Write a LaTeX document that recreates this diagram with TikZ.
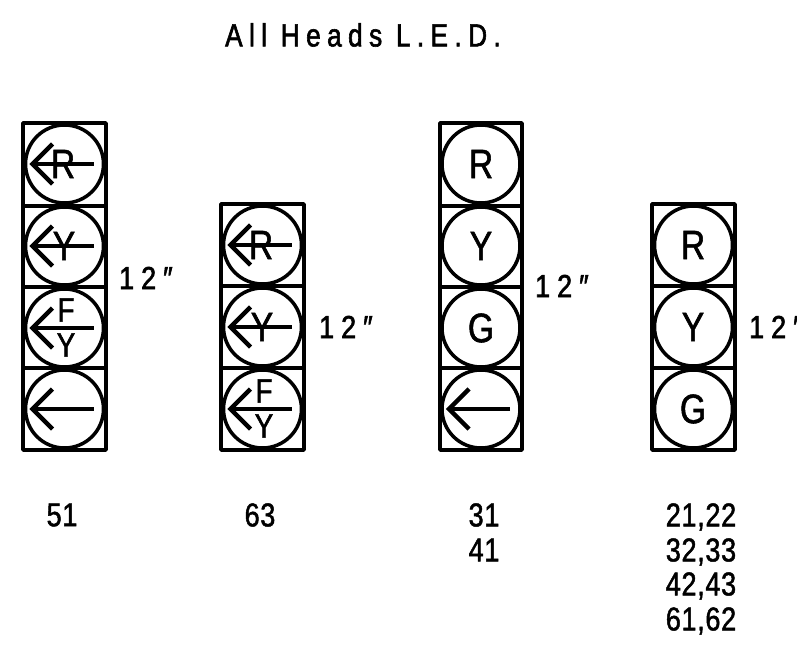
\documentclass[tikz,border=0pt]{standalone}
\usepackage{fontspec}
\setmainfont{Liberation Sans}
\newfontfamily\cad[FakeStretch=0.82,FakeBold=1.4]{Liberation Sans}
\newfontfamily\cadwide[FakeStretch=0.84,LetterSpace=22,FakeBold=1.8]{Liberation Sans}
\newfontfamily\cadtitle[FakeStretch=0.82,LetterSpace=20,FakeBold=1.8]{Liberation Sans}
\newfontfamily\numfont[FakeStretch=0.82,FakeBold=1.4,LetterSpace=2]{Liberation Sans}
\newcommand{\fsz}[1]{\fontsize{#1}{#1}\selectfont}
\tikzset{
  housing/.style={draw=black,line width=3.5pt,fill=none,line join=round},
  lens/.style={circle,draw=black,line width=3.5pt,minimum size=78pt,inner sep=0pt},
  bigletter/.style={inner sep=0pt,font=\cad\fsz{41}},
  smallletter/.style={inner sep=0pt,font=\cad\fsz{34}},
  idlabel/.style={inner sep=0pt,font=\numfont\fsz{33}},
  sizelabel/.style={inner sep=0pt,anchor=west,font=\cadwide\fsz{32}},
  titlelabel/.style={inner sep=0pt,font=\cadtitle\fsz{32}},
  arrowline/.style={line width=4.5pt,line cap=butt}
}
% \lensarrow{lens name}: left-pointing arrow inside a lens
\newcommand{\lensarrow}[1]{%
  \coordinate (#1tip) at ([xshift=-32pt,yshift=0pt]#1.center);
  \coordinate (#1end) at ([xshift=29pt]#1.center);
  \coordinate (#1up) at ([xshift=-12pt,yshift=20pt]#1.center);
  \coordinate (#1dn) at ([xshift=-12pt,yshift=-20pt]#1.center);
  \draw[arrowline] (#1end) -- (#1tip);
  \draw[arrowline] (#1up) -- (#1tip) -- (#1dn);
}
\begin{document}
\begin{tikzpicture}[x=1pt,y=-1pt]
\useasboundingbox (0,0) rectangle (797,650);
\clip (0,0) rectangle (797,650);
\node[titlelabel] (title) at (363,35) {All Heads L.E.D.};

% Head 51
\draw[housing] (23,123) rectangle (106,450);
\draw[housing] (23,206) -- (106,206) (23,287) -- (106,287) (23,368) -- (106,368);
\node[lens] (a1) at (64.5,164) {};
\node[lens] (a2) at (64.5,246) {};
\node[lens] (a3) at (64.5,328) {};
\node[lens] (a4) at (64.5,409) {};
\node[bigletter] (a1t) at (63,164) {R};
\node[bigletter] (a2t) at (64,246) {Y};
\node[smallletter] (a3f) at (66,310) {F};
\node[smallletter] (a3y) at (66,345) {Y};
\lensarrow{a1}\lensarrow{a2}\lensarrow{a3}\lensarrow{a4}
\node[sizelabel] (as) at (119,278) {12″};

% Head 63
\draw[housing] (221,204) rectangle (304,450);
\draw[housing] (221,286) -- (304,286) (221,368) -- (304,368);
\node[lens] (b1) at (262.5,245) {};
\node[lens] (b2) at (262.5,327) {};
\node[lens] (b3) at (262.5,409) {};
\node[bigletter] (b1t) at (261,245) {R};
\node[bigletter] (b2t) at (262,327) {Y};
\node[smallletter] (b3f) at (264,391) {F};
\node[smallletter] (b3y) at (264,426) {Y};
\lensarrow{b1}\lensarrow{b2}\lensarrow{b3}
\node[sizelabel] (bs) at (319,327) {12″};

% Head 31/41
\draw[housing] (440,123) rectangle (522,450);
\draw[housing] (440,206) -- (522,206) (440,287) -- (522,287) (440,368) -- (522,368);
\node[lens] (c1) at (481,164) {};
\node[lens] (c2) at (481,246) {};
\node[lens] (c3) at (481,328) {};
\node[lens] (c4) at (481,409) {};
\node[bigletter] (c1t) at (481,164) {R};
\node[bigletter] (c2t) at (481,246) {Y};
\node[bigletter] (c3t) at (481,328) {G};
\lensarrow{c4}
\node[sizelabel] (cs) at (535,286) {12″};

% Head 21...
\draw[housing] (652,204) rectangle (735,450);
\draw[housing] (652,286) -- (735,286) (652,368) -- (735,368);
\node[lens] (d1) at (693.5,245) {};
\node[lens] (d2) at (693.5,327) {};
\node[lens] (d3) at (693.5,409) {};
\node[bigletter] (d1t) at (693,245) {R};
\node[bigletter] (d2t) at (693,327) {Y};
\node[bigletter] (d3t) at (693,409) {G};
\node[sizelabel] (ds) at (749,327) {12″};

% Signal numbers
\node[idlabel] (n51) at (62,515) {51};
\node[idlabel] (n63) at (260,515) {63};
\node[idlabel] (n31) at (484,515) {31};
\node[idlabel] (n41) at (484,550) {41};
\node[idlabel] (n21) at (701,517) {21,22};
\node[idlabel] (n32) at (701,552) {32,33};
\node[idlabel] (n42) at (701,586) {42,43};
\node[idlabel] (n61) at (701,621) {61,62};
\end{tikzpicture}
\end{document}
